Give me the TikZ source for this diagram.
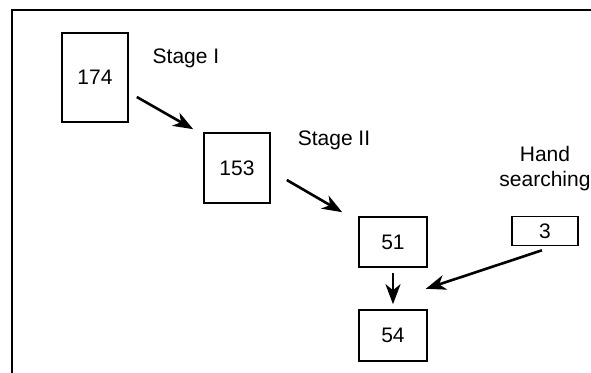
\documentclass[tikz,border=0pt]{standalone}
\usepackage{fontspec}
\setmainfont{Liberation Sans}
\usetikzlibrary{arrows.meta}

\begin{document}
\begin{tikzpicture}[x=0.5pt,y=-0.5pt,
    box/.style={draw,line width=0.8pt,inner sep=0pt,minimum width=33pt},
    arr/.style={-{Stealth[length=10pt,width=7.5pt,inset=3pt]},line width=1.3pt},
    font=\fontsize{10.5}{12.5}\selectfont]
  \useasboundingbox (0,0) rectangle (591,373);
  \draw [line width=1.2pt] (12,373) -- (12,10) -- (591,10);
  \node [box,minimum height=44.5pt] (n174) at (95,77.5) {174};
  \node [box,minimum height=35pt] (n153) at (237,168) {153};
  \node [box,minimum width=34pt,minimum height=25pt] (n51) at (393,242) {51};
  \node [box,minimum width=34pt,minimum height=25.5pt] (n54) at (393,335.5) {54};
  \node [box,minimum height=14.5pt] (n3) at (545,231) {3};
  \node (stageI) at (186,58) {Stage I};
  \node (stageII) at (334,140) {Stage II};
  \node [align=center] (hand) at (545,169) {Hand\\searching};
  \draw [arr] ([shift={(8,19.5)}]n174.east) -- ([shift={(-10,-3)}]n153.north west);
  \draw [arr] ([shift={(16,12)}]n153.east) -- ([shift={(-16,-4)}]n51.north west);
  \draw [arr,shorten <=2.5pt,shorten >=2.5pt] (n51) -- (n54);
  \draw [arr] ([shift={(-3,4)}]n3.south) -- ([shift={(-2,21)}]n51.south east);
\end{tikzpicture}
\end{document}
